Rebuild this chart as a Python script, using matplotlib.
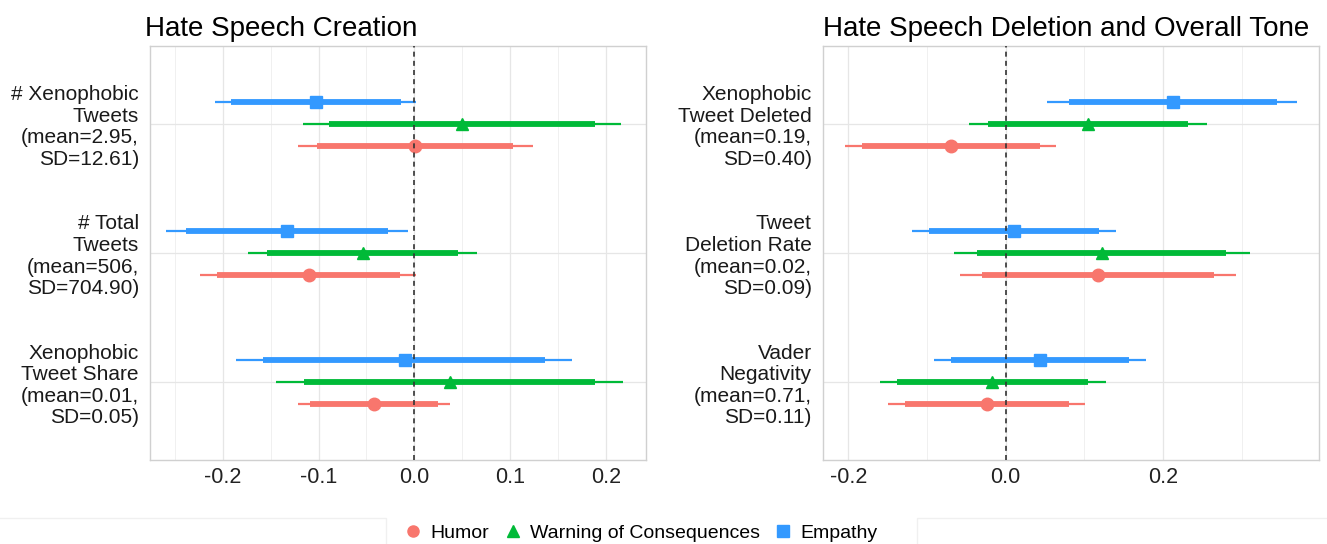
import matplotlib.pyplot as plt
from matplotlib.lines import Line2D
from matplotlib.patches import Rectangle

plt.rcParams['font.family'] = ['Liberation Sans', 'DejaVu Sans']

treatments = ['Humor', 'Warning of Consequences', 'Empathy']
colors = ['#F8766D', '#00BA38', '#3399FF']
markers = ['o', '^', 's']
offsets = [0.17, 0.0, -0.17]

# left panel
left_labels = ['# Xenophobic\nTweets\n(mean=2.95,\nSD=12.61)',
               '# Total\nTweets\n(mean=506,\nSD=704.90)',
               'Xenophobic\nTweet Share\n(mean=0.01,\nSD=0.05)']
# per treatment: estimate, inner low, inner high, outer low, outer high (one entry per outcome)
left_est = [[0.001, -0.110, -0.042], [0.050, -0.054, 0.037], [-0.103, -0.133, -0.010]]
left_in_lo = [[-0.102, -0.206, -0.109], [-0.089, -0.154, -0.115], [-0.191, -0.238, -0.158]]
left_in_hi = [[0.103, -0.015, 0.025], [0.189, 0.046, 0.189], [-0.014, -0.027, 0.136]]
left_out_lo = [[-0.121, -0.224, -0.121], [-0.116, -0.174, -0.144], [-0.208, -0.259, -0.186]]
left_out_hi = [[0.124, 0.002, 0.037], [0.216, 0.065, 0.218], [0.002, -0.007, 0.165]]

# right panel
right_labels = ['Xenophobic\nTweet Deleted\n(mean=0.19,\nSD=0.40)',
                'Tweet\nDeletion Rate\n(mean=0.02,\nSD=0.09)',
                'Vader\nNegativity\n(mean=0.71,\nSD=0.11)']
right_est = [[-0.070, 0.117, -0.024], [0.104, 0.122, -0.017], [0.212, 0.011, 0.044]]
right_in_lo = [[-0.183, -0.030, -0.128], [-0.023, -0.036, -0.138], [0.080, -0.098, -0.069]]
right_in_hi = [[0.043, 0.264, 0.080], [0.231, 0.280, 0.104], [0.344, 0.119, 0.156]]
right_out_lo = [[-0.204, -0.058, -0.149], [-0.047, -0.066, -0.160], [0.053, -0.119, -0.091]]
right_out_hi = [[0.064, 0.292, 0.101], [0.256, 0.310, 0.127], [0.370, 0.140, 0.178]]

fig = plt.figure(figsize=(13.27, 5.44), dpi=100)
ax1 = fig.add_axes([0.113, 0.1544, 0.3736, 0.761])
ax2 = fig.add_axes([0.620, 0.1544, 0.374, 0.761])


def draw_panel(ax, labels, est, in_lo, in_hi, out_lo, out_hi, xlim, major, minor, title, tx):
    pos = range(1, len(labels) + 1)
    for k in range(len(treatments)):
        ys = [p + offsets[k] for p in pos]
        ax.hlines(ys, out_lo[k], out_hi[k], color=colors[k], lw=1.6, zorder=3)
        ax.hlines(ys, in_lo[k], in_hi[k], color=colors[k], lw=4.2, zorder=3)
        ax.plot(est[k], ys, ls='none', marker=markers[k], color=colors[k],
                markersize=9, zorder=4)
    ax.axvline(0, color='#333333', ls=(0, (3, 2.5)), lw=1.2, zorder=5)
    ax.set_xlim(*xlim)
    ax.set_ylim(len(labels) + 0.6, 0.4)
    ax.set_yticks(list(pos))
    ax.set_yticklabels(labels, fontsize=15, linespacing=1.17, ha='right', color='#1A1A1A')
    ax.set_xticks(major)
    ax.set_xticklabels([f'{v:.1f}' for v in major], fontsize=15.5, color='#222222')
    ax.set_xticks(minor, minor=True)
    ax.tick_params(axis='both', length=0)
    ax.tick_params(axis='y', pad=8)
    ax.tick_params(axis='x', pad=5)
    ax.tick_params(axis='x', which='minor', length=0)
    ax.grid(True, which='major', color='#E6E6E6', lw=0.9)
    ax.grid(True, which='minor', axis='x', color='#F0F0F0', lw=0.7)
    ax.set_axisbelow(True)
    for s in ax.spines.values():
        s.set_color('#D0D0D0')
        s.set_linewidth(1.0)
    ax.set_title(title, loc='left', fontsize=20, pad=7, x=tx)


draw_panel(ax1, left_labels, left_est, left_in_lo, left_in_hi, left_out_lo, left_out_hi,
           (-0.276, 0.2416), [-0.2, -0.1, 0.0, 0.1, 0.2],
           [-0.25, -0.15, -0.05, 0.05, 0.15], 'Hate Speech Creation', -0.01)
draw_panel(ax2, right_labels, right_est, right_in_lo, right_in_hi, right_out_lo, right_out_hi,
           (-0.2324, 0.398), [-0.2, 0.0, 0.2],
           [-0.1, 0.1, 0.3], 'Hate Speech Deletion and Overall Tone', 0.0)
ax2.set_xticklabels(['-0.2', '0.0', '0.2'])

# faint empty legend-box frames left and right of the legend
fig.patches.append(Rectangle((-0.01, -0.05), 0.301, 0.098, transform=fig.transFigure,
                             fill=False, edgecolor='#F0F0F0', lw=1.0))
fig.patches.append(Rectangle((0.691, -0.05), 0.33, 0.098, transform=fig.transFigure,
                             fill=False, edgecolor='#F0F0F0', lw=1.0))

handles = [Line2D([], [], ls='none', marker=markers[k], color=colors[k], markersize=8)
           for k in range(len(treatments))]
fig.legend(handles, treatments, loc='center', bbox_to_anchor=(0.482, 0.02), ncol=3,
           frameon=False, fontsize=14, handletextpad=0.3, columnspacing=0.6,
           handlelength=1.2)

fig.savefig('out.png', dpi=100)
